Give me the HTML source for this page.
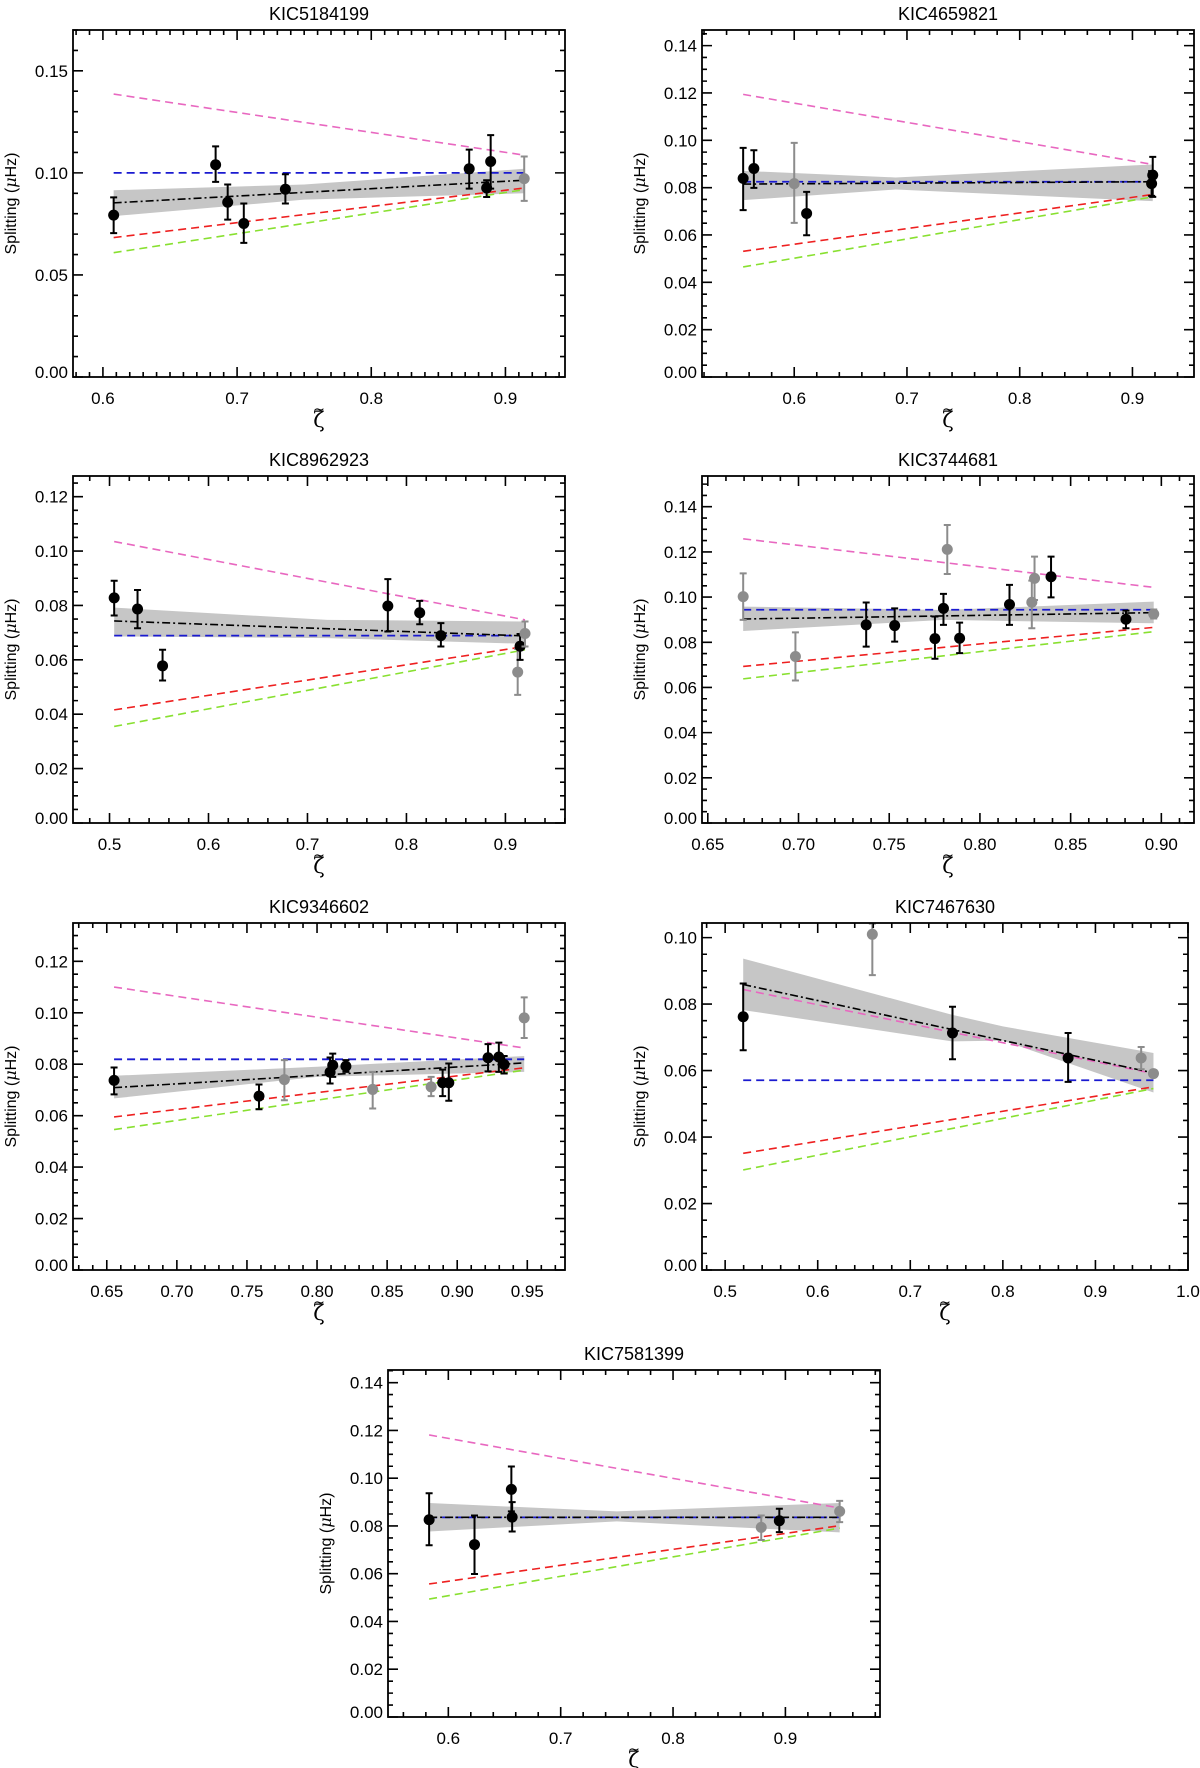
<!DOCTYPE html>
<html><head><meta charset="utf-8"><style>
html,body{margin:0;padding:0;background:#fff;}
svg{display:block;font-family:"Liberation Sans","DejaVu Sans",sans-serif;}
</style></head><body>
<svg id="fig" width="1200" height="1768" viewBox="0 0 1200 1768" xmlns="http://www.w3.org/2000/svg"></svg>
<script>
// ---------- Panel 1: KIC5184199 ----------
const p1X=[0.608,0.684,0.693,0.705,0.736,0.873,0.886,0.889,0.914];
const p1Y=[0.0793,0.104,0.0856,0.0752,0.092,0.102,0.0926,0.1056,0.0972];
const p1Hi=[0.088,0.113,0.0943,0.085,0.0993,0.1114,0.0964,0.1185,0.108];
const p1Lo=[0.0705,0.0956,0.0771,0.0657,0.085,0.0923,0.0882,0.0923,0.0863];
const p1Gray=[0,0,0,0,0,0,0,0,1];
const p1LineX=[0.608,0.914];
const p1Pink=[0.1386,0.1087];
const p1Blue=[0.100,0.100];
const p1Red=[0.0683,0.0926];
const p1Green=[0.0609,0.0918];
const p1Fit=[0.0853,0.0964];
const p1BandX=[0.608,0.75,0.914];
const p1BandHi=[0.0915,0.0943,0.102];
const p1BandLo=[0.0788,0.0869,0.090];

// ---------- Panel 2: KIC4659821 ----------
const p2X=[0.5547,0.5642,0.600,0.611,0.917,0.918];
const p2Y=[0.0839,0.0881,0.0817,0.0691,0.0817,0.0853];
const p2Hi=[0.0968,0.0958,0.0989,0.0782,0.0870,0.093];
const p2Lo=[0.0705,0.0799,0.0651,0.0599,0.0765,0.0761];
const p2Gray=[0,0,1,0,0,0];
const p2LineX=[0.5547,0.918];
const p2Pink=[0.1194,0.0898];
const p2Blue=[0.0825,0.0825];
const p2Red=[0.0531,0.0771];
const p2Green=[0.0465,0.0761];
const p2Fit=[0.0815,0.0825];
const p2BandX=[0.5547,0.69,0.918];
const p2BandHi=[0.0871,0.0843,0.0898];
const p2BandLo=[0.0747,0.0792,0.0743];

// ---------- Panel 3: KIC8962923 ----------
const p3X=[0.5047,0.5283,0.5536,0.7812,0.8134,0.8348,0.9124,0.9148,0.9198];
const p3Y=[0.0828,0.0787,0.0578,0.0798,0.0773,0.0689,0.0555,0.065,0.0697];
const p3Hi=[0.0891,0.0857,0.0637,0.0897,0.0817,0.0735,0.064,0.0695,0.0741];
const p3Lo=[0.0763,0.0716,0.0524,0.0704,0.0731,0.0649,0.0471,0.060,0.0649];
const p3Gray=[0,0,0,0,0,0,1,0,1];
const p3LineX=[0.5047,0.9198];
const p3Pink=[0.1035,0.0747];
const p3Blue=[0.0689,0.0689];
const p3Red=[0.0416,0.0649];
const p3Green=[0.0355,0.0637];
const p3Fit=[0.0743,0.0688];
const p3BandX=[0.5047,0.72,0.9198];
const p3BandHi=[0.0792,0.0747,0.0741];
const p3BandLo=[0.0686,0.068,0.0659];

// ---------- Panel 4: KIC3744681 ----------
const p4X=[0.6695,0.6983,0.7373,0.753,0.7752,0.7799,0.782,0.7888,0.8163,0.8286,0.8301,0.8392,0.8805,0.8958];
const p4Y=[0.1002,0.0737,0.0877,0.0874,0.0816,0.095,0.1211,0.0818,0.0967,0.0977,0.1083,0.109,0.0902,0.0925];
const p4Hi=[0.1105,0.0844,0.0976,0.095,0.0914,0.1014,0.1319,0.0887,0.1054,0.1073,0.1179,0.1179,0.094,0.0945];
const p4Lo=[0.0899,0.0631,0.0781,0.0803,0.0727,0.0877,0.1102,0.0752,0.0877,0.0862,0.0987,0.0999,0.0862,0.0905];
const p4Gray=[1,1,0,0,0,0,1,0,0,1,1,0,0,1];
const p4LineX=[0.6695,0.8958];
const p4Pink=[0.1258,0.1043];
const p4Blue=[0.0944,0.0944];
const p4Red=[0.0693,0.0866];
const p4Green=[0.0638,0.0847];
const p4Fit=[0.0903,0.0931];
const p4BandX=[0.6695,0.78,0.8958];
const p4BandHi=[0.0958,0.0943,0.098];
const p4BandLo=[0.085,0.0899,0.0884];

// ---------- Panel 5: KIC9346602 ----------
const p5X=[0.6552,0.7586,0.7767,0.8093,0.8112,0.8206,0.8397,0.8814,0.8896,0.894,0.922,0.9297,0.9335,0.9478];
const p5Y=[0.0737,0.0676,0.074,0.0769,0.0796,0.0792,0.0702,0.0712,0.0728,0.0728,0.0825,0.0828,0.0799,0.098];
const p5Hi=[0.0787,0.0721,0.0816,0.0826,0.0841,0.0816,0.077,0.0751,0.0779,0.0803,0.0878,0.0884,0.0832,0.106];
const p5Lo=[0.0683,0.0625,0.066,0.0725,0.0751,0.077,0.0628,0.0676,0.0676,0.0658,0.0772,0.077,0.0764,0.0902];
const p5Gray=[0,0,1,0,0,0,1,1,0,0,0,0,0,1];
const p5LineX=[0.6552,0.9478];
const p5Pink=[0.110,0.0863];
const p5Blue=[0.0819,0.0819];
const p5Red=[0.0595,0.0786];
const p5Green=[0.0546,0.0777];
const p5Fit=[0.0709,0.0805];
const p5BandX=[0.6552,0.80,0.9478];
const p5BandHi=[0.0755,0.079,0.0832];
const p5BandLo=[0.0667,0.0751,0.077];

// ---------- Panel 6: KIC7467630 ----------
const p6X=[0.5195,0.659,0.7456,0.8705,0.9494,0.9627];
const p6Y=[0.0762,0.101,0.0713,0.0638,0.0638,0.0591];
const p6Hi=[0.0862,0.1042,0.0792,0.0713,0.0671,0.0601];
const p6Lo=[0.0661,0.0887,0.0634,0.0566,0.0604,0.0581];
const p6Gray=[0,1,0,0,1,1];
const p6LineX=[0.5195,0.9627];
const p6Pink=[0.0844,0.0591];
const p6Blue=[0.0571,0.0571];
const p6Red=[0.0351,0.0551];
const p6Green=[0.0301,0.0546];
const p6Fit=[0.0859,0.0593];
const p6BandX=[0.5195,0.745,0.80,0.9627];
const p6BandHi=[0.0937,0.0768,0.0733,0.0653];
const p6BandLo=[0.0782,0.0688,0.0690,0.0534];

// ---------- Panel 7: KIC7581399 ----------
const p7X=[0.5829,0.6233,0.6561,0.6568,0.8785,0.8946,0.9483];
const p7Y=[0.0826,0.0722,0.0953,0.0837,0.0794,0.0822,0.0861];
const p7Hi=[0.0937,0.0844,0.1049,0.090,0.0844,0.0872,0.0905];
const p7Lo=[0.0719,0.0599,0.0861,0.0777,0.0741,0.0774,0.0816];
const p7Gray=[0,0,0,0,1,0,1];
const p7LineX=[0.5829,0.9483];
const p7Pink=[0.1181,0.0875];
const p7Blue=[0.0836,0.0836];
const p7Red=[0.0557,0.0801];
const p7Green=[0.0494,0.0791];
const p7Fit=[0.0836,0.0836];
const p7BandX=[0.5829,0.75,0.9483];
const p7BandHi=[0.0896,0.0861,0.0896];
const p7BandLo=[0.0777,0.0819,0.0773];

const NS="http://www.w3.org/2000/svg";
const svg=document.getElementById('fig');
function mk(tag,attrs,parent){const e=document.createElementNS(NS,tag);for(const k in attrs)e.setAttribute(k,attrs[k]);(parent||svg).appendChild(e);return e;}

const panels=[
 {key:'kic5184199',title:'KIC5184199',bx:73,by:30,bw:492,bh:347,xmin:0.5777,xmax:0.9444,ymin:0,ymax:0.170,xMaj:0.1,xMin:0.01,yMaj:0.05,yMin:0.01,xDec:1,
  X:p1X,Y:p1Y,Hi:p1Hi,Lo:p1Lo,G:p1Gray,LX:p1LineX,pink:p1Pink,blue:p1Blue,red:p1Red,green:p1Green,fit:p1Fit,BX:p1BandX,BH:p1BandHi,BL:p1BandLo},
 {key:'kic4659821',title:'KIC4659821',bx:702,by:30,bw:492,bh:347,xmin:0.5182,xmax:0.9546,ymin:0,ymax:0.1466,xMaj:0.1,xMin:0.02,yMaj:0.02,yMin:0.005,xDec:1,
  X:p2X,Y:p2Y,Hi:p2Hi,Lo:p2Lo,G:p2Gray,LX:p2LineX,pink:p2Pink,blue:p2Blue,red:p2Red,green:p2Green,fit:p2Fit,BX:p2BandX,BH:p2BandHi,BL:p2BandLo},
 {key:'kic8962923',title:'KIC8962923',bx:73,by:476,bw:492,bh:347,xmin:0.4631,xmax:0.9602,ymin:0,ymax:0.1276,xMaj:0.1,xMin:0.02,yMaj:0.02,yMin:0.005,xDec:1,
  X:p3X,Y:p3Y,Hi:p3Hi,Lo:p3Lo,G:p3Gray,LX:p3LineX,pink:p3Pink,blue:p3Blue,red:p3Red,green:p3Green,fit:p3Fit,BX:p3BandX,BH:p3BandHi,BL:p3BandLo},
 {key:'kic3744681',title:'KIC3744681',bx:702,by:476,bw:492,bh:347,xmin:0.6468,xmax:0.918,ymin:0,ymax:0.1536,xMaj:0.05,xMin:0.01,yMaj:0.02,yMin:0.005,xDec:2,
  X:p4X,Y:p4Y,Hi:p4Hi,Lo:p4Lo,G:p4Gray,LX:p4LineX,pink:p4Pink,blue:p4Blue,red:p4Red,green:p4Green,fit:p4Fit,BX:p4BandX,BH:p4BandHi,BL:p4BandLo},
 {key:'kic9346602',title:'KIC9346602',bx:73,by:923,bw:492,bh:347,xmin:0.6259,xmax:0.9769,ymin:0,ymax:0.1349,xMaj:0.05,xMin:0.01,yMaj:0.02,yMin:0.005,xDec:2,
  X:p5X,Y:p5Y,Hi:p5Hi,Lo:p5Lo,G:p5Gray,LX:p5LineX,pink:p5Pink,blue:p5Blue,red:p5Red,green:p5Green,fit:p5Fit,BX:p5BandX,BH:p5BandHi,BL:p5BandLo},
 {key:'kic7467630',title:'KIC7467630',bx:702,by:923,bw:486,bh:347,xmin:0.475,xmax:1.0,ymin:0,ymax:0.1044,xMaj:0.1,xMin:0.02,yMaj:0.02,yMin:0.005,xDec:1,
  X:p6X,Y:p6Y,Hi:p6Hi,Lo:p6Lo,G:p6Gray,LX:p6LineX,pink:p6Pink,blue:p6Blue,red:p6Red,green:p6Green,fit:p6Fit,BX:p6BandX,BH:p6BandHi,BL:p6BandLo},
 {key:'kic7581399',title:'KIC7581399',bx:388,by:1370,bw:492,bh:347,xmin:0.5463,xmax:0.9842,ymin:0,ymax:0.1453,xMaj:0.1,xMin:0.02,yMaj:0.02,yMin:0.005,xDec:1,
  X:p7X,Y:p7Y,Hi:p7Hi,Lo:p7Lo,G:p7Gray,LX:p7LineX,pink:p7Pink,blue:p7Blue,red:p7Red,green:p7Green,fit:p7Fit,BX:p7BandX,BH:p7BandHi,BL:p7BandLo}
];

panels.forEach(P=>{
  const g=mk('g',{});
  
  
  const sx=v=>P.bx+(v-P.xmin)/(P.xmax-P.xmin)*P.bw;
  const sy=v=>P.by+P.bh-(v-P.ymin)/(P.ymax-P.ymin)*P.bh;
  const L=P.bx,R=P.bx+P.bw,T=P.by,B=P.by+P.bh;

  let pts=[];
  for(let i=0;i<P.BX.length;i++)pts.push(sx(P.BX[i])+','+sy(P.BH[i]));
  for(let i=P.BX.length-1;i>=0;i--)pts.push(sx(P.BX[i])+','+sy(P.BL[i]));
  const band=mk('polygon',{points:pts.join(' '),fill:'#c6c6c6',stroke:'none'},g);
  
  

  function line(vals,color,dash,name,w){
    const l=mk('line',{x1:sx(P.LX[0]),y1:sy(vals[0]),x2:sx(P.LX[1]),y2:sy(vals[1]),stroke:color,'stroke-width':w||1.6,'stroke-dasharray':dash},g);
    
    
  }
  line(P.pink,'#e868c0','8,5','pink-model-line');
  line(P.red,'#ee2020','8,5','red-model-line');
  line(P.green,'#88e030','8,5','green-model-line');
  line(P.blue,'#1a1ad0','8,5','blue-model-line',1.8);
  line(P.fit,'#000','8,3,2,3','fit-line',1.6);

  for(let i=0;i<P.X.length;i++){
    const c=P.G[i]?'#8c8c8c':'#000';
    const x=sx(P.X[i]);
    const eb=mk('path',{d:`M${x},${sy(P.Hi[i])}V${sy(P.Lo[i])}M${x-3.5},${sy(P.Hi[i])}h7M${x-3.5},${sy(P.Lo[i])}h7`,stroke:c,'stroke-width':2,fill:'none'},g);
    
    
    const pt=mk('circle',{cx:x,cy:sy(P.Y[i]),r:5.5,fill:c},g);
    
    
  }

  const fr=mk('rect',{x:L,y:T,width:P.bw,height:P.bh,fill:'none',stroke:'#000','stroke-width':1.8},g);
  
  

  let d='';
  const eps=1e-9;
  let n0=Math.ceil((P.xmin-eps)/P.xMin), n1=Math.floor((P.xmax+eps)/P.xMin);
  const xg=mk('g',{},g);
  
  
  for(let n=n0;n<=n1;n++){
    const v=n*P.xMin; const x=sx(v);
    const r=v/P.xMaj; const major=Math.abs(r-Math.round(r))<1e-6;
    const len=major?10:5;
    d+=`M${x},${B}v${-len}M${x},${T}v${len}`;
    if(major){
      const t=mk('text',{x:x,y:B+27,'font-size':17,'text-anchor':'middle',fill:'#000'},xg);
      t.textContent=v.toFixed(P.xDec);
      
      
    }
  }
  n0=Math.ceil((P.ymin-eps)/P.yMin); n1=Math.floor((P.ymax+eps)/P.yMin);
  const yg=mk('g',{},g);
  
  
  for(let n=n0;n<=n1;n++){
    const v=n*P.yMin; const y=sy(v);
    const r=v/P.yMaj; const major=Math.abs(r-Math.round(r))<1e-6;
    const len=major?10:5;
    d+=`M${L},${y}h${len}M${R},${y}h${-len}`;
    if(major){
      const t=mk('text',{x:L-5,y:y+(n===0?1:6),'font-size':17,'text-anchor':'end',fill:'#000'},yg);
      t.textContent=v.toFixed(2);
      
      
    }
  }
  mk('path',{d:d,stroke:'#000','stroke-width':1.6,fill:'none'},g);

  const tt=mk('text',{x:(L+R)/2,y:T-10,'font-size':18,'text-anchor':'middle',fill:'#000'},g);
  tt.textContent=P.title;
  
  

  const cy=(T+B)/2, lx=L-57;
  const yl=mk('text',{x:lx,y:cy,'font-size':16,'text-anchor':'middle',fill:'#000',transform:`rotate(-90 ${lx} ${cy})`},g);
  yl.innerHTML='Splitting (<tspan font-style="italic" font-family="DejaVu Serif, serif">μ</tspan>Hz)';
  
  

  const xl=mk('text',{x:(L+R)/2,y:B+50,'font-size':21,'text-anchor':'middle',fill:'#000','font-family':'DejaVu Serif, serif'},g);
  xl.textContent='ζ';
  
  
  const tl=mk('text',{x:(L+R)/2,y:B+37,'font-size':14,'text-anchor':'middle',fill:'#000','font-family':'DejaVu Sans, sans-serif'},g);
  tl.textContent='~';
  
  
});
</script>
</body></html>
